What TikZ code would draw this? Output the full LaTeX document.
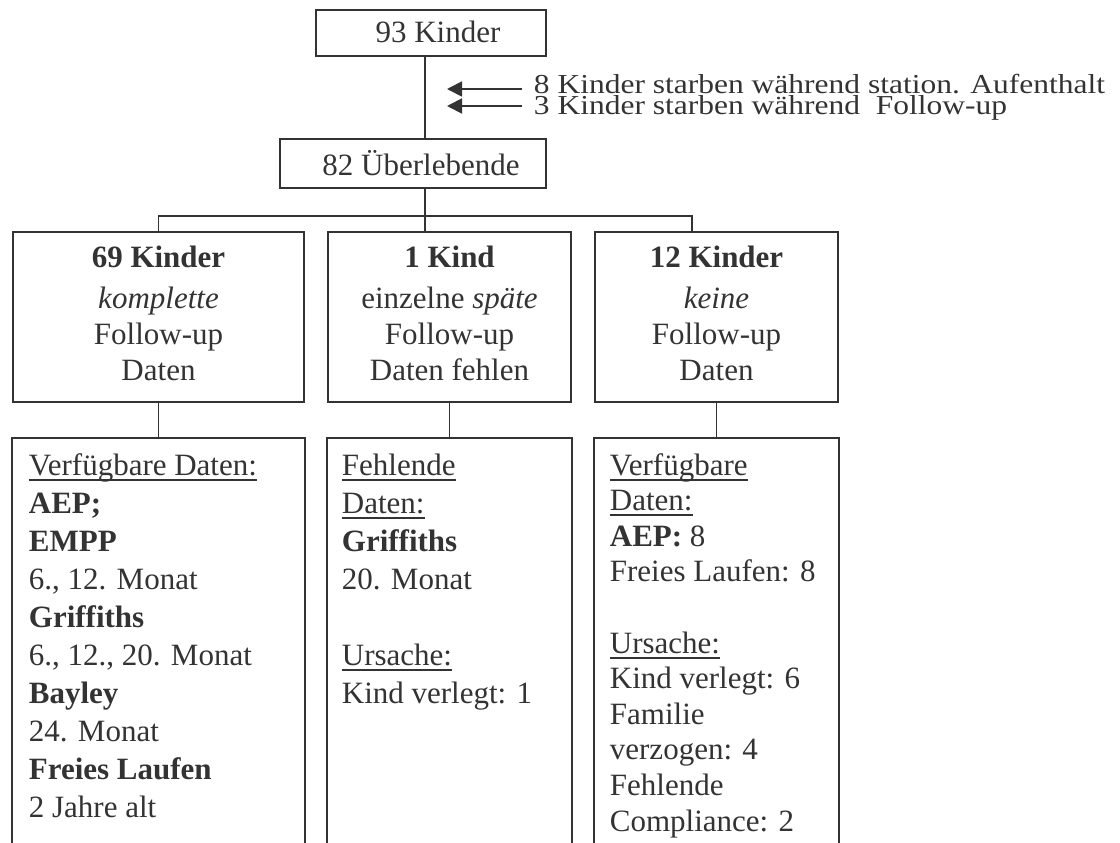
\documentclass[tikz,border=0pt]{standalone}
\usepackage{fontspec}
\setmainfont{Liberation Serif}
\usetikzlibrary{arrows.meta}
\definecolor{ink}{HTML}{333333}
\newcommand\uln[1]{\leavevmode\setbox0\hbox{#1}\rlap{\rule[-5.5pt]{\wd0}{1.8pt}}\box0}
\begin{document}
\begin{tikzpicture}[x=1pt,y=-1pt,color=ink,line width=1.8pt,
  box/.style={draw, rectangle, inner sep=0pt},
  openbox/.style={rectangle, inner sep=0pt},
  txt/.style={inner sep=0pt, anchor=base, font=\fontsize{31}{36}\selectfont},
  ltxt/.style={inner sep=0pt, anchor=base west},
  arr/.style={-{Triangle[length=15pt,width=15pt]}}]
\useasboundingbox (0,0) rectangle (1120,843);

% top boxes
\node[box, minimum width=230pt, minimum height=46pt] (n93) at (431,33) {};
\node[txt] (t93) at (438,43) {93 Kinder};
\node[box, minimum width=266pt, minimum height=49pt] (n82) at (413,163.5) {};
\node[txt] (t82) at (421,175) {82 Überlebende};
\coordinate (cx) at (425,0);
\draw (n93.south -| cx) -- (n82.north -| cx);

% arrows and side text
\coordinate (a1s) at (522,89); \coordinate (a1e) at (447,89);
\coordinate (a2s) at (522,106); \coordinate (a2e) at (447,106);
\draw[arr] (a1s) -- (a1e);
\draw[arr] (a2s) -- (a2e);
\node[ltxt] (side) at (533,94) {\scalebox{1}[0.87]{\parbox[t]{620pt}{\fontsize{31.5}{21.8}\selectfont
  8 Kinder starben während station. Aufenthalt\\
  3 Kinder starben während\ \ Follow-up}}};

% middle row boxes
\node[box, minimum width=291pt, minimum height=170pt] (b69) at (158.5,317) {};
\node[box, minimum width=243pt, minimum height=170pt] (b1) at (449.5,317) {};
\node[box, minimum width=243pt, minimum height=170pt] (b12) at (716.5,317) {};
\node[txt] (t69) at (158.5,267) {\parbox[t]{280pt}{\centering\fontsize{31}{36}\selectfont
  \textbf{69 Kinder}\\[5pt] \textit{komplette}\\ Follow-up\\ Daten}};
\node[txt] (t1) at (449.5,267) {\parbox[t]{240pt}{\centering\fontsize{31}{36}\selectfont
  \textbf{1 Kind}\\[5pt] einzelne \textit{späte}\\ Follow-up\\ Daten fehlen}};
\node[txt] (t12) at (716.5,267) {\parbox[t]{240pt}{\centering\fontsize{31}{36}\selectfont
  \textbf{12 Kinder}\\[5pt] \textit{keine}\\ Follow-up\\ Daten}};

% tree connectors
\coordinate (hl) at (0,216);
\coordinate (cr) at (692,0);
\draw (n82.south -| cx) -- (cx |- hl);
\draw (b69.north) -- (b69.north |- hl) -- (cr |- hl) -- (b12.north -| cr);
\draw (cx |- hl) -- (b1.north -| cx);

% lower boxes (open at the bottom)
\node[openbox, minimum width=291pt, minimum height=421pt] (l69) at (158.5,649.5) {};
\node[openbox, minimum width=243pt, minimum height=421pt] (l1) at (449.5,649.5) {};
\node[openbox, minimum width=243pt, minimum height=421pt] (l12) at (716.5,649.5) {};
\draw (l69.south west) -- (l69.north west) -- (l69.north east) -- (l69.south east);
\draw (l1.south west) -- (l1.north west) -- (l1.north east) -- (l1.south east);
\draw (l12.south west) -- (l12.north west) -- (l12.north east) -- (l12.south east);
\draw (b69.south) -- (l69.north);
\draw (b1.south) -- (l1.north);
\draw (b12.south) -- (l12.north);

\node[ltxt] (x69) at (28,475) {\parbox[t]{270pt}{\raggedright\fontsize{31}{38}\selectfont
  \uln{Verfügbare Daten:}\\
  \textbf{AEP;}\\
  \textbf{EMPP}\\
  6., 12. Monat\\
  \textbf{Griffiths}\\
  6., 12., 20. Monat\\
  \textbf{Bayley}\\
  24. Monat\\
  \textbf{Freies Laufen}\\
  2 Jahre alt}};
\node[ltxt] (x1) at (341,475) {\parbox[t]{225pt}{\raggedright\fontsize{31}{38}\selectfont
  \uln{Fehlende}\\
  \uln{Daten:}\\
  \textbf{Griffiths}\\
  20. Monat\\
  \mbox{}\\
  \uln{Ursache:}\\
  Kind verlegt: 1}};
\node[ltxt] (x12) at (609,475) {\parbox[t]{225pt}{\raggedright\fontsize{31}{35.6}\selectfont
  \uln{Verfügbare}\\
  \uln{Daten:}\\
  \textbf{AEP:} 8\\
  Freies Laufen: 8\\
  \mbox{}\\
  \uln{Ursache:}\\
  Kind verlegt: 6\\
  Familie\\
  verzogen: 4\\
  Fehlende\\
  Compliance: 2}};
\end{tikzpicture}
\end{document}
